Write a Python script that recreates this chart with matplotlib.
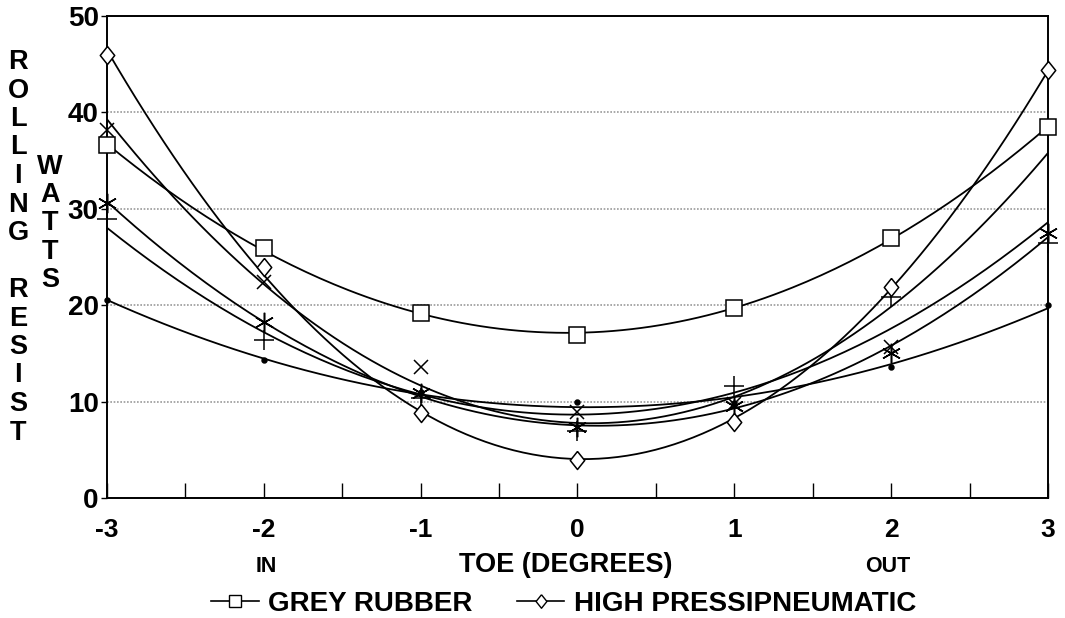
import numpy as np
import matplotlib
matplotlib.use("Agg")
import matplotlib.pyplot as plt
from matplotlib.lines import Line2D

plt.rcParams['font.family'] = ['Liberation Sans', 'DejaVu Sans']

# toe angle (degrees), negative = in, positive = out
toe = [-3, -2, -1, 0, 1, 2, 3]

# rolling resistance in watts per tyre
grey_rubber = [36.6, 25.9, 19.2, 16.9, 19.7, 27.0, 38.5]
high_press = [46.0, 24.0, 8.8, 4.0, 7.9, 21.9, 44.4]
tyre_x = [38.2, 22.4, 13.6, 8.9, 9.8, 15.7, 38.5]
tyre_star = [30.6, 18.3, 10.9, 7.4, 9.6, 15.0, 27.5]
tyre_plus = [29.0, 16.4, 10.4, 7.0, 11.6, 20.9, 26.5]
tyre_dot = [20.5, 14.3, 11.0, 10.0, 9.9, 13.6, 20.0]

x_labels = ['-3', '-2', '-1', '0', '1', '2', '3']

# slightly tall diamond like the original plotter symbol
diamond = [(0, 1), (0.8, 0), (0, -1), (-0.8, 0), (0, 1)]

# values, marker, size, legend label, marker zorder
series = [
    (grey_rubber, 's', 12, 'GREY RUBBER', 7),
    (high_press, diamond, 13, 'HIGH PRESSIPNEUMATIC', 6),
    (tyre_x, 'x', 10, None, 4),
    (tyre_star, (6, 2, 0), 14, None, 5),
    (tyre_plus, '+', 14, None, 4),
    (tyre_dot, 'o', 3.5, None, 5),
]

fig = plt.figure(figsize=(10.65, 6.18), dpi=100)
ax = fig.add_axes([0.1005, 0.194, 0.8835, 0.780])

xs = np.linspace(-3, 3, 200)
for vals, mk, ms, lab, z in series:
    coef = np.polyfit(toe, vals, 2)
    ax.plot(xs, np.polyval(coef, xs), color='black', lw=1.3, zorder=3)
    filled = isinstance(mk, str) and mk == 'o'
    ax.plot(toe, vals, linestyle='none', marker=mk, markersize=ms,
            markerfacecolor='black' if filled else 'white',
            markeredgecolor='black', markeredgewidth=1.1, zorder=z,
            clip_on=False)

ax.set_xlim(-3, 3)
ax.set_ylim(0, 50)
ax.set_xticks(toe)
ax.set_xticklabels(x_labels, fontsize=19, fontweight='bold')
ax.set_xticks(np.arange(-2.5, 3, 1), minor=True)
ax.set_yticks([0, 10, 20, 30, 40, 50])
ax.set_yticklabels(['0', '10', '20', '30', '40', '50'], fontsize=20, fontweight='bold')
ax.tick_params(axis='x', which='both', direction='in', length=11, width=1, pad=14)
ax.tick_params(axis='y', direction='out', length=4, width=1, pad=2)
ax.yaxis.grid(True, linestyle=(0, (1, 1)), color='#999999', lw=1.2)
ax.set_axisbelow(True)
for s in ax.spines.values():
    s.set_linewidth(1.4)

# vertical stacked axis titles
for i, ch in enumerate('ROLLING RESIST'):
    fig.text(18 / 1065, 1 - (62 + i * 28.5) / 618, ch, ha='center', va='center',
             fontsize=19.5, fontweight='bold')
for i, ch in enumerate('WATTS'):
    fig.text(50 / 1065, 1 - (167 + i * 28.2) / 618, ch, ha='center', va='center',
             fontsize=19.5, fontweight='bold')

fig.text(266 / 1065, 1 - 566 / 618, 'IN', ha='center', va='center', fontsize=15.5, fontweight='bold')
fig.text(888 / 1065, 1 - 566 / 618, 'OUT', ha='center', va='center', fontsize=15.5, fontweight='bold')
fig.text(566 / 1065, 1 - 565 / 618, 'TOE (DEGREES)', ha='center', va='center',
         fontsize=19.5, fontweight='bold')

handles = [Line2D([], [], color='black', lw=1.2, marker=mk, markersize=ms * 0.75,
                  markerfacecolor='white', markeredgecolor='black')
           for vals, mk, ms, lab, z in series if lab]
labels = [lab for vals, mk, ms, lab, z in series if lab]
fig.legend(handles, labels, loc='center', bbox_to_anchor=(564 / 1065, 1 - 604 / 618),
           ncol=2, frameon=False, handlelength=1.7, handletextpad=0.35,
           columnspacing=1.6, prop={'size': 20, 'weight': 'bold'})

fig.savefig('out.png', dpi=100)
